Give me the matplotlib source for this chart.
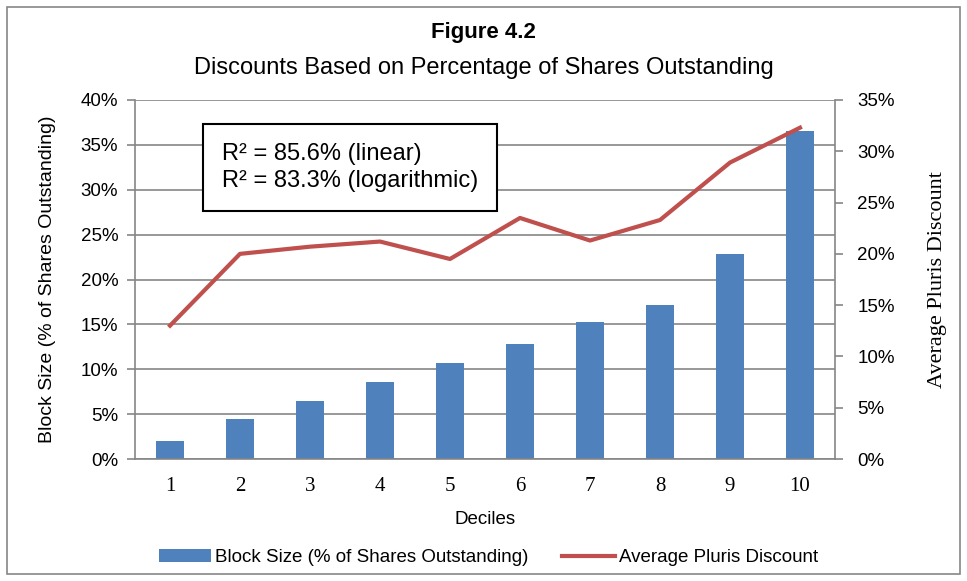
import numpy as np
import matplotlib
matplotlib.use('Agg')
import matplotlib.pyplot as plt
from matplotlib.patches import Rectangle
from matplotlib.ticker import PercentFormatter

deciles = ['1', '2', '3', '4', '5', '6', '7', '8', '9', '10']
block_size = [2.0, 4.5, 6.5, 8.6, 10.7, 12.8, 15.3, 17.2, 22.8, 36.5]
pluris_discount = [13.0, 20.0, 20.7, 21.2, 19.5, 23.5, 21.3, 23.3, 28.9, 32.3]
r2_text = 'R\u00b2 = 85.6% (linear)\nR\u00b2 = 83.3% (logarithmic)'

sans = ['Liberation Sans', 'DejaVu Sans']
serif = ['Liberation Serif', 'DejaVu Serif']
grey = '#868686'

fig = plt.figure(figsize=(9.67, 5.81), dpi=100)
fig.patches.append(Rectangle((7 / 967, 7 / 581), 953 / 967, 567 / 581, transform=fig.transFigure,
                             fill=False, edgecolor=grey, linewidth=1.2))

ax = fig.add_axes([135 / 967, 122 / 581, 700 / 967, 359 / 581])
x = np.arange(len(deciles))
ax.bar(x, block_size, width=0.39, color='#4f81bd', zorder=2,
       label='Block Size (% of Shares Outstanding)')
ax.set_xlim(-0.5, 9.5)
ax.set_ylim(0, 40)
ax.set_yticks(np.arange(0, 41, 5))
ax.yaxis.set_major_formatter(PercentFormatter(decimals=0))
ax.grid(axis='y', color=grey, linewidth=1.2, zorder=0)
ax.set_xticks(x)
ax.set_xticklabels(deciles, fontfamily=serif, fontsize=15)
ax.tick_params(axis='x', length=0, pad=13)
ax.tick_params(axis='y', length=6, color=grey, width=1.2, labelsize=13.5, pad=6)
for lab in ax.get_yticklabels():
    lab.set_fontfamily(sans)
for s in ['top', 'right']:
    ax.spines[s].set_visible(False)
for s in ['left', 'bottom']:
    ax.spines[s].set_color(grey)
    ax.spines[s].set_linewidth(1.2)
ax.set_xlabel('Deciles', fontfamily=sans, fontsize=13.5, labelpad=11)
ax.set_ylabel('Block Size (% of Shares Outstanding)', fontfamily=sans, fontsize=14, labelpad=18)

ax2 = ax.twinx()
ax2.plot(x, pluris_discount, color='#c0504d', linewidth=3, zorder=3,
         label='Average Pluris Discount')
ax2.set_ylim(0, 35)
ax2.set_yticks(np.arange(0, 36, 5))
ax2.yaxis.set_major_formatter(PercentFormatter(decimals=0))
ax2.tick_params(axis='y', length=6, color=grey, width=1.2, labelsize=13.5, pad=10)
for lab in ax2.get_yticklabels():
    lab.set_fontfamily(sans)
for s in ['top', 'left', 'bottom']:
    ax2.spines[s].set_visible(False)
ax2.spines['right'].set_color(grey)
ax2.spines['right'].set_linewidth(1.2)
ax2.set_ylabel('Average Pluris Discount', fontfamily=serif, fontsize=16, labelpad=24)

ax2.text(0.124, 0.812, r2_text, transform=ax.transAxes, fontfamily=sans, fontsize=17,
         va='center', ha='left', linespacing=1.3, zorder=5,
         bbox=dict(boxstyle='square,pad=0.8', facecolor='white', edgecolor='black', linewidth=1.5))

fig.text(0.5, 0.944, 'Figure 4.2', ha='center', va='center', fontfamily=sans,
         fontsize=16, fontweight='bold')
fig.text(0.5, 0.883, 'Discounts Based on Percentage of Shares Outstanding', ha='center',
         va='center', fontfamily=sans, fontsize=17)

h1, l1 = ax.get_legend_handles_labels()
h2, l2 = ax2.get_legend_handles_labels()
fig.legend(h1 + h2, l1 + l2, loc='center', bbox_to_anchor=(0.505, 0.04), ncol=2, frameon=False,
           prop={'family': sans, 'size': 13.5}, handlelength=2.8, handletextpad=0.2,
           columnspacing=1.8)

fig.savefig('out.png', dpi=100)
